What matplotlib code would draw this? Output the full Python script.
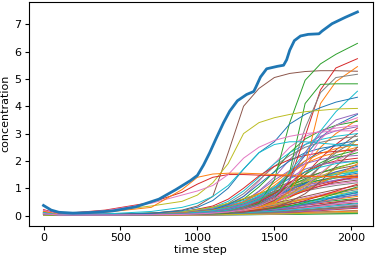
import matplotlib
matplotlib.use('Agg')
import matplotlib.pyplot as plt
import numpy as np

# thick (total) curve
t_total = [0, 50, 100, 190, 300, 450, 600, 750, 860, 955, 1000, 1040, 1080, 1120,
           1170, 1210, 1260, 1320, 1366, 1380, 1410, 1450, 1520, 1560, 1580, 1600,
           1630, 1670, 1720, 1790, 1810, 1875, 1960, 2040]
c_total = [0.37, 0.2, 0.12, 0.09, 0.11, 0.17, 0.32, 0.6, 0.95, 1.28, 1.47, 1.85, 2.3,
           2.8, 3.4, 3.82, 4.2, 4.43, 4.54, 4.7, 5.07, 5.37, 5.46, 5.5, 5.7, 6.05,
           6.4, 6.57, 6.63, 6.65, 6.75, 7.02, 7.25, 7.45]

# prominent thin curves
t_hi = [0, 100, 400, 700, 900, 1000, 1100, 1200, 1300, 1400, 1500, 1600, 1700, 1800, 1900, 2040]
hi_lines = [
    [0.05, 0.02, 0.04, 0.08, 0.2, 0.35, 0.7, 2.3, 4.0, 4.65, 5.05, 5.2, 5.27, 5.3, 5.3, 5.28],
    [0.03, 0.01, 0.02, 0.03, 0.05, 0.06, 0.08, 0.1, 0.2, 0.45, 1.3, 3.4, 4.95, 5.55, 5.9, 6.3],
    [0.08, 0.03, 0.03, 0.04, 0.05, 0.07, 0.1, 0.14, 0.22, 0.35, 0.55, 1.3, 2.9, 4.6, 5.4, 5.74],
    [0.1, 0.03, 0.03, 0.04, 0.05, 0.07, 0.1, 0.15, 0.22, 0.3, 0.45, 0.9, 1.8, 4.1, 4.9, 5.45],
    [0.06, 0.02, 0.02, 0.03, 0.05, 0.07, 0.1, 0.16, 0.3, 0.55, 0.9, 1.5, 3.2, 4.5, 5.05, 5.17],
    [0.04, 0.01, 0.02, 0.03, 0.04, 0.06, 0.1, 0.15, 0.25, 0.35, 0.6, 1.6, 4.1, 4.8, 4.82, 4.82],
    [0.12, 0.03, 0.03, 0.04, 0.06, 0.08, 0.12, 0.2, 0.35, 0.6, 1.0, 1.6, 2.3, 3.1, 3.8, 4.55],
    [0.09, 0.03, 0.04, 0.08, 0.18, 0.3, 0.55, 1.0, 1.7, 2.3, 2.7, 3.35, 3.7, 3.95, 4.15, 4.33],
    [0.02, 0.02, 0.15, 0.35, 0.52, 0.75, 1.2, 1.9, 3.0, 3.4, 3.58, 3.7, 3.8, 3.85, 3.9, 3.92],
    [0.22, 0.06, 0.2, 0.48, 0.85, 1.15, 1.4, 1.5, 1.5, 1.48, 1.46, 1.45, 1.44, 1.43, 1.42, 1.42],
    [0.2, 0.05, 0.18, 0.45, 0.75, 0.9, 1.1, 1.5, 2.1, 2.5, 2.75, 2.9, 3.0, 3.05, 3.1, 3.1],
    [0.15, 0.04, 0.12, 0.3, 0.95, 1.4, 1.52, 1.55, 1.55, 1.53, 1.5, 1.48, 1.45, 1.43, 1.41, 1.4],
    [0.1, 0.03, 0.06, 0.15, 0.3, 0.45, 0.7, 1.1, 1.7, 2.3, 2.6, 2.7, 2.7, 2.65, 2.6, 2.55],
    [0.05, 0.02, 0.02, 0.03, 0.05, 0.07, 0.1, 0.15, 0.25, 0.4, 0.7, 1.3, 2.3, 3.0, 3.5, 3.73],
    [0.07, 0.02, 0.02, 0.03, 0.04, 0.06, 0.09, 0.13, 0.2, 0.35, 0.6, 1.1, 1.9, 2.8, 3.3, 3.58],
]
hi_colors = ['C5', 'C2', 'C3', 'C1', 'C7', 'C2', 'C9', 'C0', 'C8', 'C3', 'C6', 'C1', 'C9', 'C4', 'C6']

# the dense bundle of thin curves
t_bulk = [0, 100, 500, 900, 1100, 1200, 1300, 1400, 1500, 1600, 1700, 1800, 1900, 2040]
bulk_lines = [
    [0.10, 0.03, 0.03, 0.06, 0.12, 0.19, 0.3, 0.52, 0.9, 1.5, 2.2, 2.85, 3.3, 3.7],
    [0.05, 0.02, 0.02, 0.04, 0.08, 0.12, 0.2, 0.35, 0.6, 1.1, 1.8, 2.5, 3.0, 3.5],
    [0.15, 0.04, 0.04, 0.08, 0.2, 0.35, 0.6, 1.05, 1.6, 2.3, 2.8, 3.1, 3.3, 3.45],
    [0.08, 0.03, 0.03, 0.05, 0.1, 0.16, 0.25, 0.42, 0.7, 1.05, 1.5, 2.1, 2.6, 3.2],
    [0.02, 0.01, 0.02, 0.05, 0.15, 0.28, 0.5, 0.9, 1.4, 2.05, 2.6, 2.9, 3.1, 3.25],
    [0.12, 0.04, 0.03, 0.05, 0.09, 0.13, 0.18, 0.28, 0.45, 0.75, 1.2, 1.8, 2.4, 3.0],
    [0.06, 0.02, 0.03, 0.07, 0.2, 0.38, 0.7, 1.25, 1.9, 2.5, 2.9, 3.1, 3.2, 3.3],
    [0.2, 0.05, 0.05, 0.1, 0.25, 0.45, 0.8, 1.3, 1.8, 2.2, 2.5, 2.68, 2.8, 2.9],
    [0.04, 0.02, 0.02, 0.04, 0.07, 0.1, 0.15, 0.25, 0.4, 0.65, 1.0, 1.5, 2.0, 2.8],
    [0.09, 0.03, 0.04, 0.1, 0.3, 0.52, 0.9, 1.4, 1.9, 2.3, 2.6, 2.78, 2.9, 3.0],
    [0.03, 0.01, 0.02, 0.05, 0.12, 0.2, 0.35, 0.6, 1.0, 1.5, 2.0, 2.35, 2.6, 2.75],
    [0.11, 0.03, 0.03, 0.06, 0.14, 0.24, 0.4, 0.68, 1.1, 1.52, 1.9, 2.15, 2.3, 2.5],
    [0.07, 0.02, 0.02, 0.04, 0.1, 0.17, 0.28, 0.48, 0.8, 1.2, 1.6, 1.93, 2.2, 2.4],
    [0.14, 0.04, 0.05, 0.12, 0.35, 0.6, 1.0, 1.45, 1.8, 2.05, 2.2, 2.3, 2.35, 2.4],
    [0.05, 0.02, 0.03, 0.06, 0.16, 0.28, 0.5, 0.88, 1.3, 1.65, 1.9, 2.05, 2.15, 2.2],
    [0.1, 0.03, 0.05, 0.15, 0.3, 0.43, 0.6, 0.8, 1.0, 1.22, 1.4, 1.57, 1.7, 1.85],
    [0.06, 0.02, 0.04, 0.12, 0.25, 0.36, 0.5, 0.69, 0.9, 1.1, 1.3, 1.47, 1.6, 1.75],
    [0.13, 0.04, 0.05, 0.1, 0.2, 0.28, 0.4, 0.58, 0.8, 1.0, 1.2, 1.4, 1.55, 1.7],
    [0.04, 0.02, 0.04, 0.1, 0.2, 0.31, 0.45, 0.64, 0.85, 1.05, 1.25, 1.4, 1.5, 1.65],
    [0.18, 0.05, 0.06, 0.14, 0.28, 0.4, 0.55, 0.75, 0.95, 1.15, 1.3, 1.42, 1.5, 1.6],
    [0.08, 0.03, 0.04, 0.09, 0.18, 0.26, 0.38, 0.55, 0.75, 0.96, 1.15, 1.3, 1.42, 1.55],
    [0.02, 0.01, 0.03, 0.08, 0.16, 0.24, 0.35, 0.5, 0.7, 0.9, 1.1, 1.26, 1.38, 1.5],
    [0.12, 0.03, 0.04, 0.1, 0.22, 0.34, 0.48, 0.68, 0.88, 1.06, 1.2, 1.3, 1.38, 1.45],
    [0.07, 0.02, 0.03, 0.07, 0.15, 0.22, 0.32, 0.47, 0.65, 0.83, 1.0, 1.15, 1.28, 1.4],
    [0.16, 0.04, 0.05, 0.11, 0.24, 0.36, 0.5, 0.68, 0.85, 1.0, 1.12, 1.21, 1.28, 1.35],
    [0.05, 0.02, 0.03, 0.06, 0.13, 0.2, 0.28, 0.42, 0.58, 0.77, 0.95, 1.09, 1.2, 1.3],
    [0.09, 0.03, 0.04, 0.08, 0.17, 0.25, 0.36, 0.51, 0.68, 0.84, 0.98, 1.08, 1.16, 1.25],
    [0.03, 0.01, 0.03, 0.07, 0.14, 0.21, 0.3, 0.44, 0.6, 0.75, 0.9, 1.01, 1.1, 1.2],
    [0.11, 0.03, 0.05, 0.13, 0.3, 0.45, 0.62, 0.8, 0.98, 1.15, 1.3, 1.43, 1.55, 1.68],
    [0.06, 0.02, 0.03, 0.06, 0.12, 0.18, 0.26, 0.38, 0.55, 0.75, 0.98, 1.2, 1.4, 1.62],
    [0.14, 0.04, 0.04, 0.08, 0.16, 0.23, 0.34, 0.5, 0.7, 0.93, 1.18, 1.4, 1.6, 1.8],
    [0.04, 0.02, 0.03, 0.05, 0.1, 0.15, 0.22, 0.34, 0.5, 0.7, 0.95, 1.2, 1.45, 1.9],
    [0.1, 0.03, 0.04, 0.09, 0.2, 0.29, 0.42, 0.6, 0.82, 1.08, 1.35, 1.57, 1.75, 1.95],
    [0.08, 0.02, 0.03, 0.06, 0.11, 0.16, 0.24, 0.35, 0.5, 0.69, 0.9, 1.08, 1.25, 1.45],
    [0.2, 0.06, 0.06, 0.1, 0.2, 0.29, 0.4, 0.55, 0.72, 0.89, 1.05, 1.18, 1.3, 1.45],
    [0.05, 0.02, 0.03, 0.06, 0.12, 0.18, 0.25, 0.34, 0.45, 0.57, 0.7, 0.83, 0.95, 1.1],
    [0.1, 0.03, 0.03, 0.05, 0.1, 0.14, 0.2, 0.29, 0.4, 0.52, 0.65, 0.77, 0.88, 1.02],
    [0.02, 0.01, 0.02, 0.05, 0.1, 0.14, 0.2, 0.28, 0.38, 0.49, 0.6, 0.71, 0.82, 0.95],
    [0.13, 0.04, 0.04, 0.07, 0.13, 0.18, 0.24, 0.32, 0.42, 0.52, 0.62, 0.7, 0.78, 0.88],
    [0.07, 0.02, 0.02, 0.04, 0.08, 0.11, 0.16, 0.23, 0.32, 0.42, 0.52, 0.61, 0.7, 0.82],
    [0.15, 0.04, 0.04, 0.06, 0.11, 0.15, 0.2, 0.27, 0.35, 0.43, 0.52, 0.59, 0.66, 0.75],
    [0.04, 0.01, 0.02, 0.04, 0.08, 0.11, 0.15, 0.21, 0.28, 0.36, 0.45, 0.53, 0.6, 0.7],
    [0.09, 0.03, 0.03, 0.05, 0.09, 0.12, 0.16, 0.22, 0.28, 0.35, 0.42, 0.49, 0.55, 0.63],
    [0.12, 0.03, 0.03, 0.05, 0.08, 0.11, 0.14, 0.19, 0.24, 0.31, 0.38, 0.44, 0.5, 0.58],
    [0.03, 0.01, 0.02, 0.03, 0.06, 0.08, 0.11, 0.15, 0.2, 0.26, 0.33, 0.39, 0.45, 0.52],
    [0.06, 0.02, 0.02, 0.04, 0.06, 0.08, 0.1, 0.14, 0.18, 0.23, 0.29, 0.35, 0.4, 0.46],
    [0.17, 0.05, 0.04, 0.05, 0.07, 0.09, 0.11, 0.14, 0.18, 0.22, 0.27, 0.31, 0.35, 0.4],
    [0.08, 0.02, 0.02, 0.03, 0.05, 0.06, 0.08, 0.11, 0.14, 0.18, 0.22, 0.26, 0.3, 0.35],
    [0.04, 0.01, 0.02, 0.03, 0.04, 0.05, 0.07, 0.09, 0.12, 0.15, 0.19, 0.22, 0.26, 0.3],
    [0.11, 0.03, 0.03, 0.04, 0.06, 0.08, 0.12, 0.17, 0.24, 0.33, 0.45, 0.58, 0.72, 0.9],
    [0.06, 0.02, 0.02, 0.03, 0.05, 0.07, 0.1, 0.14, 0.2, 0.29, 0.4, 0.53, 0.68, 0.85],
    [0.14, 0.04, 0.03, 0.05, 0.09, 0.13, 0.18, 0.25, 0.35, 0.47, 0.6, 0.73, 0.85, 1.0],
    [0.02, 0.01, 0.02, 0.04, 0.07, 0.09, 0.13, 0.18, 0.26, 0.36, 0.48, 0.63, 0.8, 1.05],
    [0.09, 0.03, 0.03, 0.05, 0.08, 0.11, 0.15, 0.21, 0.3, 0.41, 0.55, 0.72, 0.9, 1.15],
    [0.05, 0.02, 0.02, 0.04, 0.07, 0.09, 0.12, 0.16, 0.22, 0.29, 0.38, 0.48, 0.6, 0.78],
    [0.12, 0.03, 0.03, 0.04, 0.06, 0.08, 0.1, 0.13, 0.17, 0.23, 0.3, 0.38, 0.48, 0.62],
    [0.07, 0.02, 0.02, 0.03, 0.05, 0.07, 0.09, 0.12, 0.16, 0.21, 0.28, 0.35, 0.42, 0.52],
    [0.04, 0.01, 0.01, 0.02, 0.03, 0.04, 0.05, 0.06, 0.08, 0.1, 0.12, 0.14, 0.16, 0.19],
    [0.1, 0.03, 0.02, 0.02, 0.03, 0.035, 0.04, 0.05, 0.06, 0.075, 0.09, 0.1, 0.12, 0.14],
    [0.02, 0.01, 0.01, 0.01, 0.02, 0.025, 0.03, 0.035, 0.04, 0.05, 0.06, 0.07, 0.08, 0.1],
    [0.06, 0.02, 0.02, 0.02, 0.03, 0.035, 0.04, 0.045, 0.05, 0.06, 0.07, 0.08, 0.09, 0.1],
    [0.15, 0.04, 0.03, 0.03, 0.04, 0.045, 0.05, 0.06, 0.07, 0.085, 0.1, 0.12, 0.14, 0.17],
    [0.03, 0.01, 0.01, 0.02, 0.02, 0.025, 0.03, 0.035, 0.04, 0.045, 0.05, 0.055, 0.06, 0.07],
    [0.08, 0.02, 0.02, 0.02, 0.03, 0.04, 0.05, 0.07, 0.09, 0.12, 0.15, 0.18, 0.22, 0.27],
    [0.12, 0.03, 0.02, 0.03, 0.04, 0.05, 0.06, 0.08, 0.1, 0.13, 0.16, 0.2, 0.24, 0.3],
    [0.05, 0.02, 0.02, 0.03, 0.05, 0.06, 0.08, 0.1, 0.13, 0.16, 0.2, 0.24, 0.28, 0.34],
    [0.01, 0.0, 0.01, 0.01, 0.02, 0.025, 0.03, 0.04, 0.05, 0.065, 0.08, 0.095, 0.11, 0.13],
    [0.09, 0.03, 0.02, 0.03, 0.04, 0.055, 0.07, 0.09, 0.12, 0.16, 0.2, 0.25, 0.3, 0.38],
    [0.07, 0.02, 0.02, 0.02, 0.03, 0.035, 0.04, 0.05, 0.06, 0.07, 0.08, 0.09, 0.1, 0.12],
    [0.13, 0.04, 0.03, 0.04, 0.06, 0.08, 0.1, 0.13, 0.16, 0.2, 0.25, 0.3, 0.36, 0.44],
    [0.06, 0.02, 0.03, 0.08, 0.22, 0.4, 0.7, 1.15, 1.6, 2.0, 2.3, 2.46, 2.55, 2.6],
    [0.1, 0.03, 0.04, 0.09, 0.2, 0.31, 0.5, 0.8, 1.2, 1.62, 2.0, 2.27, 2.45, 2.6],
    [0.04, 0.01, 0.02, 0.05, 0.1, 0.16, 0.26, 0.42, 0.7, 1.08, 1.5, 1.85, 2.1, 2.3],
    [0.12, 0.04, 0.04, 0.07, 0.14, 0.21, 0.32, 0.5, 0.8, 1.2, 1.6, 1.85, 2.0, 2.1],
    [0.08, 0.02, 0.03, 0.06, 0.15, 0.24, 0.4, 0.65, 1.0, 1.38, 1.7, 1.87, 1.95, 2.0],
    [0.03, 0.01, 0.02, 0.03, 0.06, 0.08, 0.12, 0.19, 0.3, 0.5, 0.8, 1.25, 1.8, 2.5],
    [0.07, 0.02, 0.02, 0.04, 0.08, 0.12, 0.18, 0.28, 0.45, 0.72, 1.1, 1.55, 2.0, 2.4],
    [0.11, 0.03, 0.03, 0.05, 0.1, 0.15, 0.22, 0.35, 0.55, 0.88, 1.3, 1.8, 2.3, 2.8],
    [0.05, 0.02, 0.02, 0.04, 0.09, 0.13, 0.2, 0.32, 0.5, 0.78, 1.1, 1.42, 1.7, 2.0],
    [0.09, 0.03, 0.03, 0.07, 0.18, 0.3, 0.46, 0.72, 1.05, 1.35, 1.6, 1.77, 1.9, 2.0],
]

plt.rcParams['font.size'] = 8
fig = plt.figure(figsize=(3.76, 2.6), dpi=100)
ax = fig.add_axes([0.076, 0.132, 0.916, 0.861])

for i, row in enumerate(bulk_lines):
    ax.plot(t_bulk, row, lw=0.7, color='C%d' % (i % 10))

for row, c in zip(hi_lines, hi_colors):
    ax.plot(t_hi, row, lw=0.7, color=c)

ax.plot(t_total, c_total, lw=2, color='C0')

ax.set_xlim(-97, 2141)
ax.set_ylim(-0.37, 7.82)
ax.set_xticks([0, 500, 1000, 1500, 2000])
ax.set_yticks(range(8))
ax.set_xlabel('time step', labelpad=2)
ax.set_ylabel('concentration', labelpad=3)
ax.tick_params(length=3, pad=2)

fig.savefig('out.png', dpi=100)
